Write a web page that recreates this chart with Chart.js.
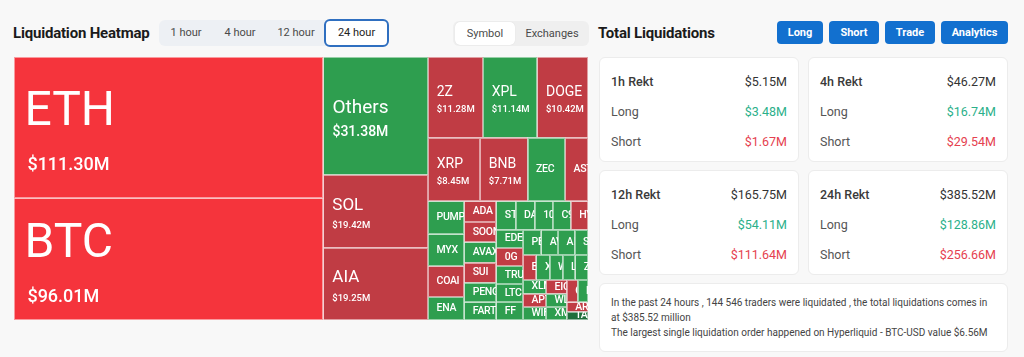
<!DOCTYPE html>
<html>
<head>
<meta charset="utf-8">
<script src="https://cdn.jsdelivr.net/npm/chart.js@4.4.1/dist/chart.umd.min.js"></script>
<style>
*{box-sizing:border-box}
html,body{margin:0;padding:0;background:#f8f8f8;width:1024px;height:357px;overflow:hidden;font-family:Roboto,"Noto Sans",sans-serif;color:#333}
.a{position:absolute;white-space:nowrap}
#title{left:13px;top:22px;line-height:22px;font-size:15px;font-weight:700;color:#1b1b1b;letter-spacing:-0.2px}
#tabs{left:159px;top:20px;width:229px;height:26px;background:#edf0f4;border-radius:6px}
.tab{top:20px;height:26px;line-height:26px;font-size:11px;color:#4a4a4a;text-align:center}
#sel24{left:324px;top:19px;width:65px;height:28px;border:2px solid #2f6fc0;border-radius:6px;background:#fff}
#grp2{left:453px;top:21px;width:136px;height:25px;background:#efefef;border-radius:6px}
#selSym{left:455px;top:22px;width:60px;height:23px;background:#fff;border-radius:5px;box-shadow:0 0 1px rgba(0,0,0,0.12)}
#title2{left:598px;top:22px;line-height:22px;font-size:15px;font-weight:700;color:#1b1b1b;letter-spacing:-0.2px}
.btn{top:21px;height:23px;line-height:23px;background:#1270cf;color:#fff;font-size:11px;font-weight:700;text-align:center;border-radius:4px}
.card{position:absolute;background:#fff;border:1px solid #ececec;border-radius:6px;width:200px;height:105px}
.row{position:absolute;left:11px;right:11px;height:16px;line-height:16px;font-size:12.5px}
.row .k{position:absolute;left:0;color:#555}
.row .v{position:absolute;right:0}
.row.t .k{font-weight:500;color:#3a3a3a}
.row.t .v{color:#333}
.g{color:#2bb08a}.r{color:#e5414f}
#info{left:599px;top:283px;width:409px;height:69px;background:#fff;border:1px solid #ececec;border-radius:6px;padding:11px 0 0 11px;font-size:10px;line-height:15px;color:#444}
#wrap{left:14px;top:57px;width:574px;height:263px}
</style>
</head>
<body>
<div class="a" id="title">Liquidation Heatmap</div>
<div class="a" id="tabs"></div>
<div class="a" id="sel24"></div>
<div class="a" id="grp2"></div>
<div class="a" id="selSym"></div>
<div id="tabTexts"></div>
<div class="a" id="title2">Total Liquidations</div>
<div id="btns"></div>
<div id="cards"></div>
<div class="a" id="info"></div>
<div class="a" id="wrap"><canvas id="c" width="574" height="263"></canvas></div>
<script>
// ---------------- data ----------------
const symbols = ['ETH','BTC','Others','SOL','AIA','2Z','XPL','DOGE','XRP','BNB','ZEC','ASTER','PUMP','MYX','COAI','ENA','ADA','SOON','AVAX','SUI','PENGU','FARTCOIN','STBL','DASH','1000PEPE','C98','HYPE','EDEN','0G','TRUTH','LTC','FF','PENDLE','AVNT','AI16Z','SOMI','ETHFI','XAN','WLD','LINK','ZKC','XLM','APT','WIF','EIGEN','WLFI','XMR','CAKE','KAITO','ARB','TAO'];
const liquidations = [111.30,96.01,31.38,19.42,19.25,11.28,11.14,10.42,8.45,7.71,6.10,3.72,3.04,2.94,2.85,2.12,1.68,1.66,1.65,1.64,1.60,1.45,1.39,1.38,1.32,1.29,1.25,1.24,1.23,1.23,1.23,1.22,1.17,1.07,1.06,0.86,0.85,0.84,0.83,0.82,0.81,0.80,0.78,0.76,0.72,0.70,0.68,0.62,0.60,0.50,0.45];
// -2 strong down, -1 down, 1 up, 2 strong up
const trend = [-2,-2,1,-1,-1,-1,1,-1,-1,-1,1,-1,1,1,-1,1,-1,-1,1,-1,1,1,1,1,1,1,-1,1,-1,1,1,1,1,1,1,1,-1,1,1,1,1,1,-1,1,-1,1,1,-1,1,-1,2];
const timeTabs = ['1 hour','4 hour','12 hour','24 hour'];
const viewTabs = ['Symbol','Exchanges'];
const actions = ['Long','Short','Trade','Analytics'];
const rektPeriods = ['1h','4h','12h','24h'];
const rektTotal = [5.15,46.27,165.75,385.52];
const rektLong = [3.48,16.74,54.11,128.86];
const rektShort = [1.67,29.54,111.64,256.66];
const tradersLiquidated = 144546;
const largestOrder = {exchange:'Hyperliquid', pair:'BTC-USD', value:6.56};

// ---------------- page chrome ----------------
const tabBoxes = [[159,213],[213,267],[267,325],[324,389]];
timeTabs.forEach((t,i)=>{
  const d=document.createElement('div');d.className='a tab';d.textContent=t;
  d.style.left=tabBoxes[i][0]+'px';d.style.width=(tabBoxes[i][1]-tabBoxes[i][0])+'px';
  if(i===3){d.style.color='#222';}
  document.getElementById('tabTexts').appendChild(d);
});
const viewBoxes=[[455,515],[515,589]];
viewTabs.forEach((t,i)=>{
  const d=document.createElement('div');d.className='a tab';d.textContent=t;
  d.style.left=viewBoxes[i][0]+'px';d.style.width=(viewBoxes[i][1]-viewBoxes[i][0])+'px';
  d.style.top='21px';d.style.height='25px';d.style.lineHeight='25px';
  document.getElementById('tabTexts').appendChild(d);
});
const btnBoxes=[[777,823],[829,879],[885,935],[941,1008]];
actions.forEach((t,i)=>{
  const d=document.createElement('div');d.className='a btn';d.textContent=t;
  d.style.left=btnBoxes[i][0]+'px';d.style.width=(btnBoxes[i][1]-btnBoxes[i][0])+'px';
  document.getElementById('btns').appendChild(d);
});
const fmt=v=>'$'+v.toFixed(2)+'M';
const cardPos=[[599,57],[808,57],[599,170],[808,170]];
rektPeriods.forEach((p,i)=>{
  const c=document.createElement('div');c.className='card';
  c.style.left=cardPos[i][0]+'px';c.style.top=cardPos[i][1]+'px';
  const rows=[[p+' Rekt',fmt(rektTotal[i]),'t',''],['Long',fmt(rektLong[i]),'','g'],['Short',fmt(rektShort[i]),'','r']];
  rows.forEach((r,j)=>{
    const row=document.createElement('div');row.className='row '+r[2];
    row.style.top=(16+j*30)+'px';
    row.innerHTML='<span class="k">'+r[0]+'</span><span class="v '+r[3]+'">'+r[1]+'</span>';
    c.appendChild(row);
  });
  document.getElementById('cards').appendChild(c);
});
const tr=String(tradersLiquidated).replace(/\B(?=(\d{3})+(?!\d))/g,' ');
document.getElementById('info').innerHTML=
  'In the past 24 hours , '+tr+' traders were liquidated , the total liquidations comes in<br>at $'+rektTotal[3].toFixed(2)+' million<br>'+
  'The largest single liquidation order happened on '+largestOrder.exchange+' - '+largestOrder.pair+' value $'+largestOrder.value.toFixed(2)+'M';

// ---------------- treemap via Chart.js ----------------
const toneColors={'-2':'#f5343c','-1':'#c03c44','1':'#2e9e4f','2':'#1f6f3c'};

function squarify(vals, x0, y0, x1, y1){
  const ratio=(1+Math.sqrt(5))/2;
  const out=new Array(vals.length);
  let value=vals.reduce((a,b)=>a+b,0);
  let i0=0,i1=0;const n=vals.length;
  while(i0<n){
    const dx=x1-x0, dy=y1-y0;
    let sumValue=vals[i1++];
    let minValue=sumValue,maxValue=sumValue;
    const alpha=Math.max(dy/dx,dx/dy)/(value*ratio);
    let beta=sumValue*sumValue*alpha;
    let minRatio=Math.max(maxValue/beta,beta/minValue);
    for(;i1<n;++i1){
      const nv=vals[i1];
      sumValue+=nv;
      if(nv<minValue)minValue=nv;
      if(nv>maxValue)maxValue=nv;
      beta=sumValue*sumValue*alpha;
      const newRatio=Math.max(maxValue/beta,beta/minValue);
      if(newRatio>minRatio){sumValue-=nv;break;}
      minRatio=newRatio;
    }
    const dice=dx<dy;
    if(dice){
      const ny=i1<n? y0+dy*sumValue/value : y1;
      let x=x0;const k=(x1-x0)/sumValue;
      for(let i=i0;i<i1;i++){const w=vals[i]*k;out[i]=[x,y0,(i===i1-1)?x1:x+w,ny];x+=w;}
      y0=ny;
    }else{
      const nx=i1<n? x0+dx*sumValue/value : x1;
      let y=y0;const k=(y1-y0)/sumValue;
      for(let i=i0;i<i1;i++){const h=vals[i]*k;out[i]=[x0,y,nx,(i===i1-1)?y1:y+h];y+=h;}
      x0=nx;
    }
    value-=sumValue;i0=i1;
  }
  return out;
}

const treemapPlugin={
  id:'treemap',
  beforeDatasetsDraw(){return false;},
  afterDraw(chart){
    const ctx=chart.ctx, xs=chart.scales.x, ys=chart.scales.y;
    const L=xs.getPixelForValue(0), R=xs.getPixelForValue(1);
    const T=ys.getPixelForValue(0), B=ys.getPixelForValue(1);
    const ds=chart.data.datasets[0];
    const vals=ds.data, labels=chart.data.labels;
    const rects=squarify(vals,L,T,R,B);
    rects.forEach((r,i)=>{
      const [x0,y0,x1,y1]=r, w=x1-x0, h=y1-y0, v=vals[i];
      ctx.save();
      ctx.beginPath();ctx.rect(x0,y0,w,h);ctx.clip();
      ctx.fillStyle=ds.backgroundColor[i];ctx.fillRect(x0,y0,w,h);
      const lab = v>=50?48: v>=25?19: v>=15?17: v>=7?14: 10.5;
      const sub = v>=50?18: v>=25?14: v>=7?9.5: 0;
      ctx.fillStyle='#fff';ctx.textAlign='left';ctx.textBaseline='middle';
      const cx=x0+8+lab*0.05, cy=(y0+y1)/2;
      if(sub){
        const D=0.5*lab+0.5*sub+0.4*lab, d=0.25*lab;
        ctx.font='400 '+lab+'px Roboto';
        ctx.fillText(labels[i],cx,cy-D/2+d);
        ctx.font='500 '+sub+'px Roboto';
        ctx.fillText(fmt(v),cx+(v>=50?3:0),cy+D/2+d);
      }else{
        ctx.font='500 '+lab+'px Roboto';
        ctx.letterSpacing='-0.3px';
        ctx.fillText(labels[i],cx,cy);
      }
      ctx.restore();
      ctx.save();
      ctx.strokeStyle='rgba(255,255,255,0.5)';ctx.lineWidth=1;
      ctx.strokeRect(Math.round(x0)+0.5,Math.round(y0)+0.5,Math.round(x1)-Math.round(x0)-1,Math.round(y1)-Math.round(y0)-1);
      ctx.restore();
    });
  }
};

new Chart(document.getElementById('c'),{
  type:'bar',
  data:{labels:symbols,datasets:[{data:liquidations,backgroundColor:trend.map(t=>toneColors[String(t)])}]},
  options:{
    responsive:false,animation:false,devicePixelRatio:1,
    layout:{padding:0},
    plugins:{legend:{display:false},tooltip:{enabled:false}},
    scales:{
      x:{type:'linear',min:0,max:1,offset:false,grace:0,display:false},
      y:{type:'linear',min:0,max:1,reverse:true,grace:0,display:false}
    }
  },
  plugins:[treemapPlugin]
});
</script>
</body>
</html>
